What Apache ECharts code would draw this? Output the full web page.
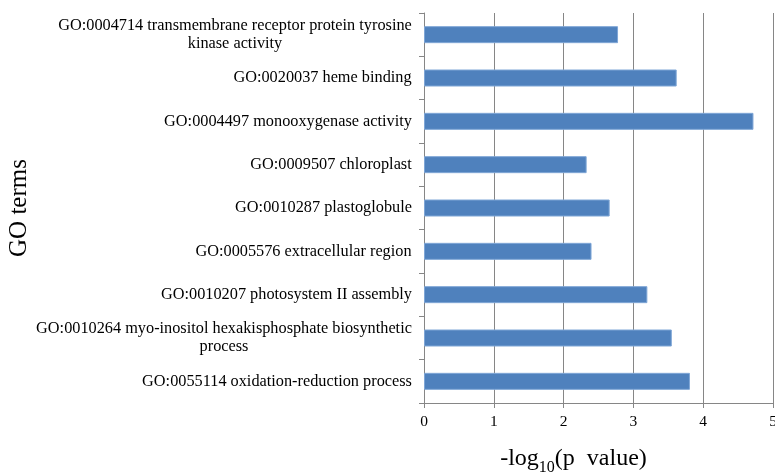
<!DOCTYPE html>
<html>
<head>
<meta charset="utf-8">
<script src="https://cdn.jsdelivr.net/npm/echarts@6/dist/echarts.min.js"></script>
<style>html,body{margin:0;padding:0;background:#fff}#c{width:775px;height:473px}</style>
</head>
<body>
<div id="c"></div>
<script>
const categories = [
  'GO:0004714 transmembrane receptor protein tyrosine\nkinase activity',
  'GO:0020037 heme binding',
  'GO:0004497 monooxygenase activity',
  'GO:0009507 chloroplast',
  'GO:0010287 plastoglobule',
  'GO:0005576 extracellular region',
  'GO:0010207 photosystem II assembly',
  'GO:0010264 myo-inositol hexakisphosphate biosynthetic\nprocess',
  'GO:0055114 oxidation-reduction process'
];
const values = [2.78, 3.62, 4.72, 2.33, 2.66, 2.40, 3.20, 3.55, 3.81];
const xTicks = [0, 1, 2, 3, 4, 5];

const FONT = '"Liberation Serif", "Times New Roman", serif';
const LABEL_SIZE = 16.3;
const ctx = document.createElement('canvas').getContext('2d');
ctx.font = LABEL_SIZE + 'px ' + FONT;
const rich = {};
categories.forEach((c, i) => {
  const lines = c.split('\n');
  const w = Math.max(...lines.map(l => ctx.measureText(l).width));
  rich['c' + i] = {width: Math.ceil(w), align: 'center', fontFamily: FONT, fontSize: LABEL_SIZE, lineHeight: 18, color: '#000'};
});

const chart = echarts.init(document.getElementById('c'), null, {renderer: 'canvas'});
chart.setOption({
  animation: false,
  backgroundColor: '#fff',
  grid: {left: 424, right: 2, top: 13, bottom: 70, containLabel: false, outerBoundsMode: 'none'},
  xAxis: {
    type: 'value', min: xTicks[0], max: xTicks[xTicks.length - 1], interval: 1,
    name: '{a|-log}{s|10}{a|(p  value)}',
    nameLocation: 'middle', nameGap: 40,
    nameTextStyle: {
      padding: [0, 50, 0, 0],
      rich: {
        a: {fontFamily: FONT, fontSize: 24, color: '#000', verticalAlign: 'bottom', lineHeight: 28},
        s: {fontFamily: FONT, fontSize: 16, color: '#000', verticalAlign: 'bottom', lineHeight: 22, padding: [0, 0, -5, 0]}
      }
    },
    axisLine: {show: true, lineStyle: {color: '#868686', width: 1}},
    axisTick: {show: true, length: 5, lineStyle: {color: '#868686'}},
    axisLabel: {fontFamily: FONT, fontSize: 15.5, color: '#000', margin: 11,
      formatter: v => String(v)},
    splitLine: {show: true, lineStyle: {color: '#868686', width: 1}}
  },
  yAxis: {
    type: 'category', data: categories, inverse: true,
    name: 'GO terms', nameLocation: 'middle', nameGap: 390, nameRotate: 90,
    nameTextStyle: {fontFamily: FONT, fontSize: 25, color: '#000'},
    axisLine: {show: true, lineStyle: {color: '#868686', width: 1}},
    axisTick: {show: true, length: 5, lineStyle: {color: '#868686'}},
    axisLabel: {
      interval: 0, margin: 12, fontFamily: FONT, fontSize: LABEL_SIZE, color: '#000', lineHeight: 18,
      formatter: (v, i) => v.split('\n').map(l => '{c' + i + '|' + l + '}').join('\n'),
      rich: rich
    },
    splitLine: {show: false}
  },
  series: [{
    type: 'bar', data: values, barWidth: 17,
    itemStyle: {color: '#4F81BD', borderColor: '#7FA6D6', borderWidth: 1}
  }]
});
</script>
</body>
</html>
